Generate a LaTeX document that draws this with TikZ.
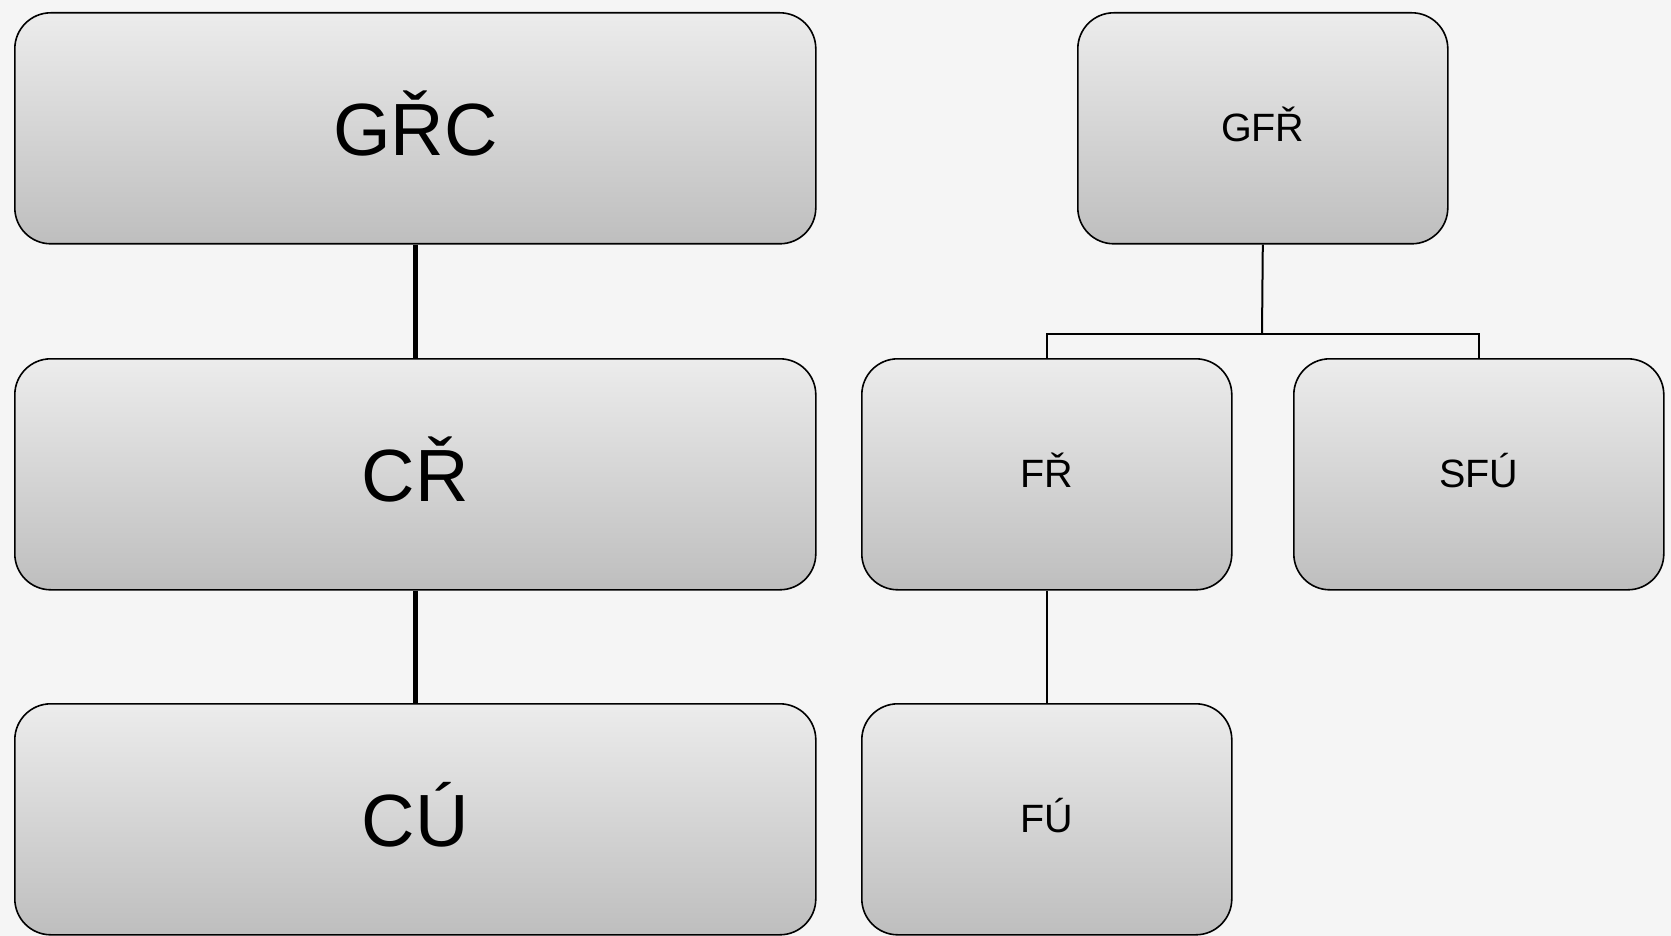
\documentclass[tikz,border=0pt]{standalone}
\usepackage{fontspec}
\setmainfont{Liberation Sans}
\definecolor{bg}{HTML}{F5F5F5}
\definecolor{topc}{HTML}{ECECEC}
\definecolor{botc}{HTML}{BEBEBE}
\newcommand{\liftbig}[1]{\raisebox{10pt}{#1}}
\newcommand{\liftsmall}[1]{\raisebox{8pt}{#1}}
\begin{document}
\begin{tikzpicture}[x=1pt,y=-1pt,
  box/.style={draw=black,line width=1.6pt,rounded corners=36pt,top color=topc,bottom color=botc,inner sep=0pt,anchor=north west},
  bigbox/.style={box,minimum width=801pt,minimum height=231pt,font=\fontsize{74}{78}\selectfont},
  smallbox/.style={box,minimum width=370pt,minimum height=231pt,font=\fontsize{39.5}{42}\selectfont},
  thick link/.style={line width=5.5pt},
  thin link/.style={line width=2pt}]
\fill[bg] (0,0) rectangle (1671,936);
\useasboundingbox (0,0) rectangle (1671,936);
\node[bigbox] (grc) at (14,12) {\liftbig{GŘC}};
\node[bigbox] (cr) at (14,358) {\liftbig{CŘ}};
\node[bigbox] (cu) at (14,703) {\liftbig{CÚ}};
\node[smallbox] (gfr) at (1077,12) {\liftsmall{GFŘ}};
\node[smallbox] (fr) at (861,358) {\liftsmall{FŘ}};
\node[smallbox] (sfu) at (1293,358) {\liftsmall{SFÚ}};
\node[smallbox] (fu) at (861,703) {\liftsmall{FÚ}};
\draw[thick link] (grc.south) -- (cr.north);
\draw[thick link] (cr.south) -- (cu.north);
\coordinate (bus) at (1262,334);
\draw[thin link] (gfr.south) -- (bus);
\draw[thin link] (fr.north) -- (fr.north |- bus) -- (sfu.north |- bus) -- (sfu.north);
\draw[thin link] (fr.south) -- (fu.north);
\end{tikzpicture}
\end{document}
